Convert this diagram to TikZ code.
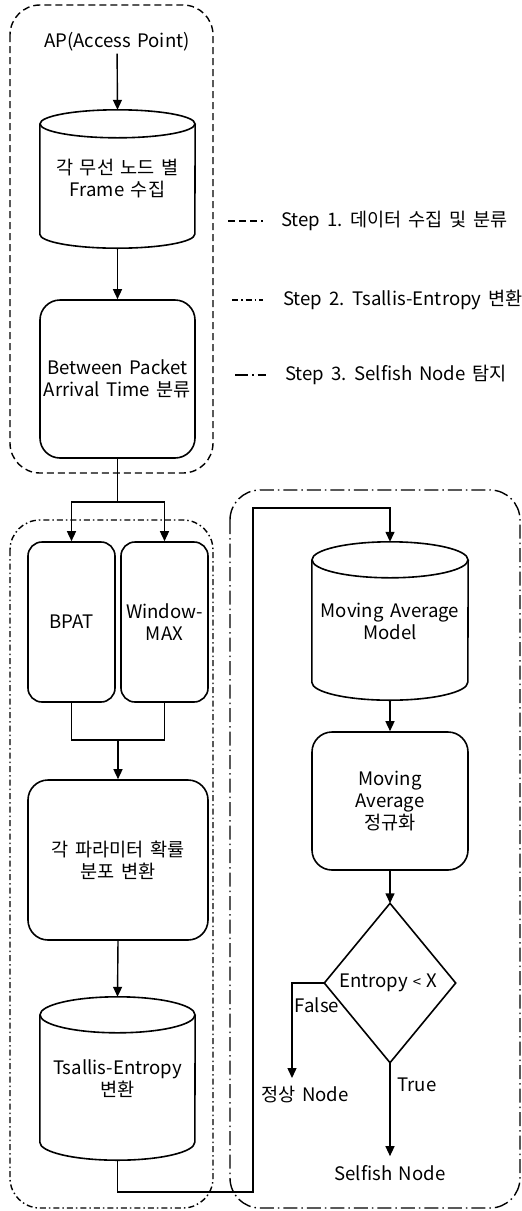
\documentclass[tikz,border=0pt]{standalone}
\usepackage{fontspec}
\newfontfamily\kr[WordSpace={1.6}]{Noto Sans CJK KR}
\usetikzlibrary{arrows.meta}

\tikzset{
  txt/.style={font=\kr\fontsize{18.6}{22}\selectfont, align=center, inner sep=2pt},
  flowbox/.style={txt, draw, line width=1.6pt, rounded corners=20pt},
  cylbody/.style={txt},
  wire/.style={line width=1.4pt},
  arrow/.style={wire, -{Triangle[length=10pt,width=9pt]}},
  stepone/.style={line width=1.4pt, dash pattern=on 7pt off 4pt},
  steptwo/.style={line width=1.4pt, dash pattern=on 6pt off 3pt on 1.5pt off 3pt},
  stepthree/.style={line width=1.4pt, dash pattern=on 14pt off 4pt on 1.5pt off 4pt},
}

% cylinder outline around a named node: #1 node name, #2 half width, #3 ellipse radius
\newcommand{\cylinderdraw}[3]{%
  \draw[line width=1.6pt]
    ([yshift=-#3 pt]#1.north west) -- ([yshift=#3 pt]#1.south west)
    arc[start angle=180, end angle=360, x radius=#2 pt, y radius=#3 pt]
    -- ([yshift=-#3 pt]#1.north east);
  \draw[line width=1.6pt] ([yshift=-#3 pt]#1.north) ellipse[x radius=#2 pt, y radius=#3 pt];
}

\begin{document}
\begin{tikzpicture}[x=1pt, y=-1pt]
\useasboundingbox (0,0) rectangle (522,1211);

% group frames
\draw[stepone, rounded corners=30pt] (10,5) rectangle (213,473);
\draw[steptwo, rounded corners=30pt] (10,520) rectangle (213,1208);
\draw[stepthree, rounded corners=30pt] (230,490) rectangle (520,1208);

% step 1: collection
\node[txt] (ap) at (117,42) {AP(Access Point)};
\node[cylbody, minimum width=155pt, minimum height=138pt] (c1) at (117.5,179) {각 무선 노드 별\\Frame 수집};
\cylinderdraw{c1}{77.5}{14}
\node[flowbox, minimum width=155pt, minimum height=158pt] (b2) at (117.5,379) {Between Packet\\Arrival Time 분류};

\draw[arrow] (ap) -- (c1.north);
\draw[arrow] (c1.south) -- (b2.north);

% step 2: entropy conversion
\node[flowbox, rounded corners=14pt, minimum width=87pt, minimum height=160pt] (bpat) at (71.5,622) {BPAT};
\node[flowbox, rounded corners=14pt, minimum width=87pt, minimum height=160pt] (win) at (164.5,622) {Window-\\MAX};
\node[flowbox, minimum width=180pt, minimum height=160pt] (prob) at (118,860) {각 파라미터 확률\\분포 변환};
\node[cylbody, minimum width=155pt, minimum height=163pt] (ts) at (117.5,1078.5) {Tsallis-Entropy\\변환};
\cylinderdraw{ts}{77.5}{18}

\coordinate (split) at (117.5,502);
\coordinate (merge) at (118,740);
\draw[wire] (b2.south) -- (split);
\draw[arrow] (split) -| (bpat.north);
\draw[arrow] (split) -| (win.north);
\draw[wire] (bpat.south) |- (merge);
\draw[wire] (win.south) |- (merge);
\draw[arrow] (merge) -- (prob.north);
\draw[arrow] (prob.south) -- (ts.north);

% step 3: detection
\node[cylbody, minimum width=156pt, minimum height=158pt] (ma) at (390,621) {Moving Average\\Model};
\cylinderdraw{ma}{78}{18}
\node[flowbox, minimum width=156pt, minimum height=138pt] (norm) at (390,801) {Moving\\Average\\정규화};
\node[txt, minimum width=131pt, minimum height=159pt, inner sep=0pt] (dec) at (390,983) {\hspace*{-4pt}Entropy\hspace{5pt}{\fontsize{15}{15}\selectfont<}\hspace{5pt}X};
\draw[line width=1.6pt] (dec.north) -- (dec.east) -- (dec.south) -- (dec.west) -- cycle;

\coordinate (r1) at (253,1192);
\coordinate (r2) at (253,508);
\draw[arrow] (ts.south) |- (r1) -- (r2) -| (ma.north);
\draw[arrow] (ma.south) -- (norm.north);
\draw[arrow] (norm.south) -- (dec.north);

\node[txt] (normal) at (305,1095) {정상 Node};
\node[txt, inner ysep=9pt] (selfish) at (390,1173) {Selfish Node};
\coordinate (fend) at (292,1078);
\draw[arrow] (dec.west) -| (fend);
\draw[arrow] (dec.south) -- (selfish.north);
\node[txt] (flab) at (317,1005) {False};
\node[txt] (tlab) at (417,1085) {True};

% legend
\node[txt, anchor=west, inner sep=0pt] (leg1) at (281,221) {Step 1. 데이터 수집 및 분류};
\node[txt, anchor=west, inner sep=0pt] (leg2) at (283,300) {Step 2. Tsallis-Entropy 변환};
\node[txt, anchor=west, inner sep=0pt] (leg3) at (285,375) {Step 3. Selfish Node 탐지};
\draw[stepone] ([xshift=-53pt]leg1.west) -- ([xshift=-18pt]leg1.west);
\draw[steptwo] ([xshift=-51pt]leg2.west) -- ([xshift=-20pt]leg2.west);
\draw[line width=1.4pt, dash pattern=on 13pt off 4pt on 1.5pt off 4pt on 8pt off 4pt] ([xshift=-50pt]leg3.west) -- ([xshift=-17pt]leg3.west);
\end{tikzpicture}
\end{document}
